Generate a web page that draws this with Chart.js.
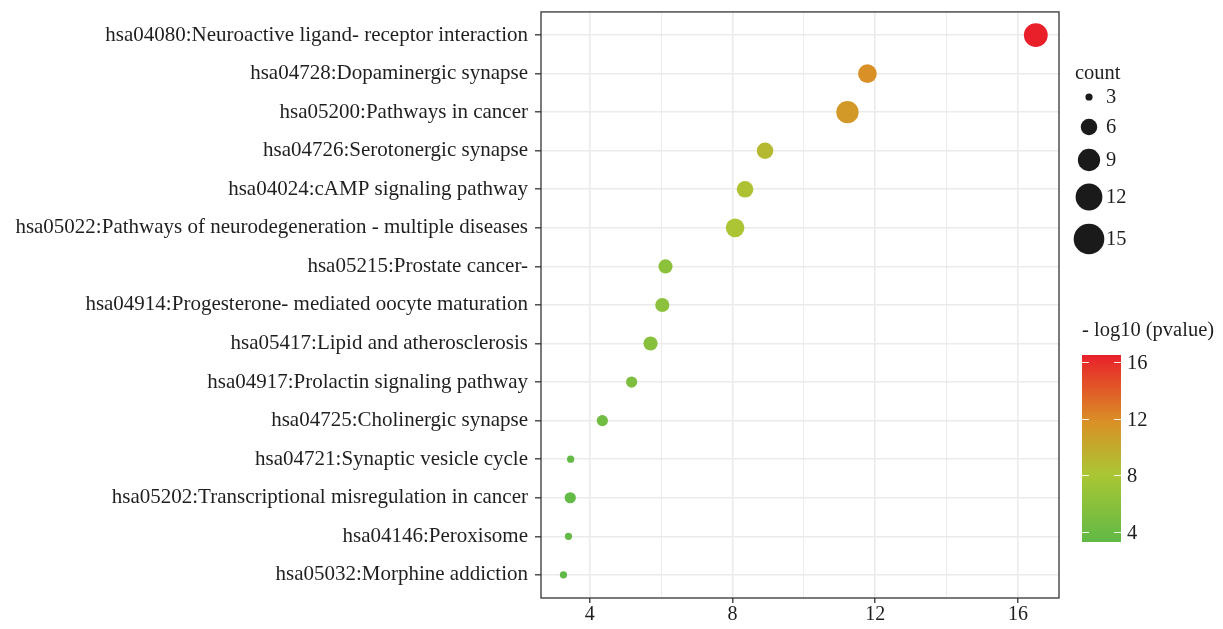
<!DOCTYPE html>
<html>
<head>
<meta charset="utf-8">
<script src="https://cdn.jsdelivr.net/npm/chart.js@4.4.1/dist/chart.umd.min.js"></script>
<style>
    html, body { margin: 0; padding: 0; background: #ffffff; }
    #wrap { width: 1223px; height: 629px; position: relative; }
</style>
</head>
<body>
<div id="wrap"><canvas id="kegg"></canvas></div>
<script>
/* KEGG enrichment bubble plot */

const pathways = [
    'hsa04080:Neuroactive ligand- receptor interaction',
    'hsa04728:Dopaminergic synapse',
    'hsa05200:Pathways in cancer',
    'hsa04726:Serotonergic synapse',
    'hsa04024:cAMP signaling pathway',
    'hsa05022:Pathways of neurodegeneration - multiple diseases',
    'hsa05215:Prostate cancer-',
    'hsa04914:Progesterone- mediated oocyte maturation',
    'hsa05417:Lipid and atherosclerosis',
    'hsa04917:Prolactin signaling pathway',
    'hsa04725:Cholinergic synapse',
    'hsa04721:Synaptic vesicle cycle',
    'hsa05202:Transcriptional misregulation in cancer',
    'hsa04146:Peroxisome',
    'hsa05032:Morphine addiction'
];
const negLogP = [16.5, 11.78, 11.22, 8.91, 8.35, 8.07, 6.12, 6.03, 5.70, 5.17, 4.35, 3.46, 3.45, 3.40, 3.26];
const geneCount = [10, 7, 9, 6, 6, 7, 5, 5, 5, 4, 4, 3, 4, 3, 3];

const xTicks = [4, 6, 8, 10, 12, 14, 16];
const countBreaks = [3, 6, 9, 12, 15];
const colorBreaks = [4, 8, 12, 16];

const FONT = "'Liberation Serif', 'DejaVu Serif', serif";
const TEXT = '#1f1f1f';

// colour gradient for -log10(pvalue)
const colorStops = [
    [0.00, [96, 185, 70]],
    [0.36, [170, 198, 52]],
    [0.64, [217, 145, 38]],
    [1.00, [233, 32, 42]]
];
const pMin = Math.min(...negLogP);
const pMax = Math.max(...negLogP);

function colorFor(v) {
    const t = Math.max(0, Math.min(1, (v - pMin) / (pMax - pMin)));
    for (let i = 1; i < colorStops.length; i++) {
        const [t1, c1] = colorStops[i];
        const [t0, c0] = colorStops[i - 1];
        if (t <= t1) {
            const f = (t - t0) / (t1 - t0);
            const c = c0.map((a, k) => Math.round(a + (c1[k] - a) * f));
            return `rgb(${c[0]},${c[1]},${c[2]})`;
        }
    }
    const c = colorStops[colorStops.length - 1][1];
    return `rgb(${c[0]},${c[1]},${c[2]})`;
}

function radiusFor(count) {
    return Math.sqrt(Math.max(74 * count - 170, 20)) / 2;
}

const frame = {
    id: 'frame',
    afterDatasetsDraw(chart) {
        const { ctx, chartArea: a } = chart;
        ctx.save();
        ctx.strokeStyle = '#333333';
        ctx.lineWidth = 1.3;
        ctx.strokeRect(a.left, a.top, a.right - a.left, a.bottom - a.top);
        ctx.restore();
    }
};

const legends = {
    id: 'legends',
    afterDraw(chart) {
        const { ctx, chartArea: a } = chart;
        const lx = a.right + 16;
        ctx.save();
        ctx.fillStyle = TEXT;
        ctx.font = `20.5px ${FONT}`;
        ctx.textBaseline = 'middle';
        ctx.textAlign = 'left';
        ctx.fillText('count', lx, 74);

        const ys = [97, 127, 160, 197, 239];
        countBreaks.forEach((c, i) => {
            ctx.beginPath();
            ctx.fillStyle = '#1a1a1a';
            ctx.arc(lx + 14, ys[i], radiusFor(c), 0, Math.PI * 2);
            ctx.fill();
            ctx.fillStyle = TEXT;
            ctx.fillText(String(c), lx + 31, ys[i] + 1);
        });

        // colour bar
        ctx.fillText('- log10 (pvalue)', lx + 7, 331);
        const bx = lx + 7, bw = 39, top = 355, bottom = 542;
        const grad = ctx.createLinearGradient(0, bottom, 0, top);
        colorStops.forEach(([t, c]) => grad.addColorStop(t, `rgb(${c[0]},${c[1]},${c[2]})`));
        ctx.fillStyle = grad;
        ctx.fillRect(bx, top, bw, bottom - top);
        const yOf = v => bottom - (v - pMin) / (pMax - pMin) * (bottom - top);
        ctx.strokeStyle = 'rgba(255,255,255,0.9)';
        ctx.lineWidth = 1;
        colorBreaks.forEach(v => {
            const y = Math.round(yOf(v)) + 0.5;
            ctx.beginPath();
            ctx.moveTo(bx, y); ctx.lineTo(bx + 7, y);
            ctx.moveTo(bx + bw - 7, y); ctx.lineTo(bx + bw, y);
            ctx.stroke();
            ctx.fillStyle = TEXT;
            ctx.fillText(String(v), bx + bw + 6, y + 1);
        });
        ctx.restore();
    }
};

new Chart(document.getElementById('kegg'), {
    type: 'bubble',
    data: {
        datasets: [{
            data: pathways.map((_, i) => ({ x: negLogP[i], y: i, r: radiusFor(geneCount[i]) })),
            backgroundColor: negLogP.map(colorFor),
            borderWidth: 0,
        }]
    },
    options: {
        responsive: true,
        maintainAspectRatio: false,
        animation: false,
        layout: { padding: { top: 10, right: 164, left: 0, bottom: 0 } },
        plugins: {
            legend: { display: false },
            tooltip: { enabled: false },
        },
        scales: {
            x: {
                type: 'linear',
                min: 2.63,
                max: 17.15,
                afterBuildTicks: axis => { axis.ticks = xTicks.map(v => ({ value: v })); },
                afterFit: scale => { scale.height = 31; },
                grid: {
                    color: '#ebebeb',
                    lineWidth: c => (c.tick && c.tick.value % 4 === 0) ? 1.6 : 0.9,
                    tickColor: c => (c.tick && c.tick.value % 4 === 0) ? '#333333' : 'rgba(0,0,0,0)',
                    tickLength: 5,
                    tickWidth: 1.3,
                    drawOnChartArea: true,
                },
                border: { display: false },
                ticks: {
                    color: TEXT,
                    padding: 0,
                    maxRotation: 0,
                    autoSkip: false,
                    font: { family: FONT, size: 20 },
                    callback: v => (v % 4 === 0 ? String(v) : ''),
                },
            },
            y: {
                type: 'linear',
                reverse: true,
                min: -0.6,
                max: 14.6,
                afterBuildTicks: axis => { axis.ticks = pathways.map((_, i) => ({ value: i })); },
                afterFit: scale => {
                    scale.width = 541;
                    scale.paddingTop = 0;
                    scale.paddingBottom = 0;
                },
                grid: {
                    color: '#ebebeb',
                    lineWidth: 1.6,
                    tickColor: '#333333',
                    tickLength: 6,
                    tickWidth: 1.3,
                },
                border: { display: false },
                ticks: {
                    color: TEXT,
                    padding: 7,
                    autoSkip: false,
                    font: { family: FONT, size: 21 },
                    callback: v => pathways[v] || '',
                },
            }
        }
    },
    plugins: [frame, legends]
});
</script>
</body>
</html>
